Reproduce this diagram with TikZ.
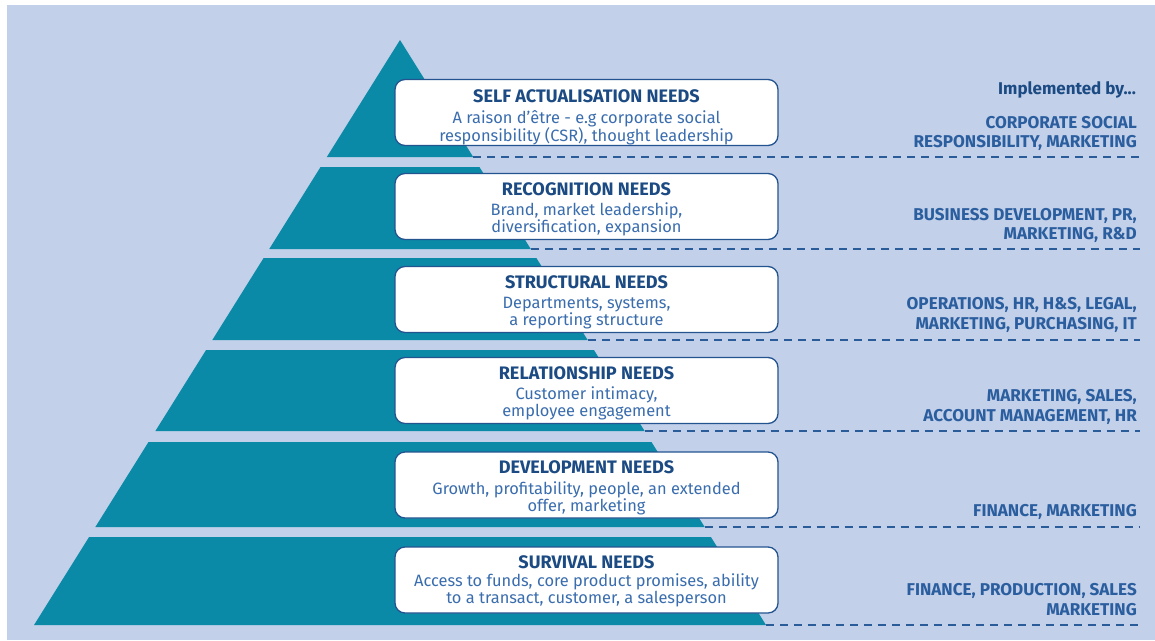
\documentclass[tikz,border=0pt]{standalone}
\usepackage{fontspec}
\setmainfont{Fira Sans}
\definecolor{bgblue}{HTML}{C2D0EA}
\definecolor{pyrteal}{HTML}{0A8AA7}
\definecolor{boxline}{HTML}{24548F}
\definecolor{titleblue}{HTML}{1C4B83}
\definecolor{bodyblue}{HTML}{3A6DAE}
\definecolor{labblue}{HTML}{2B5E9E}
\definecolor{dashblue}{HTML}{2A5C9A}
\begin{document}
\begin{tikzpicture}[x=1pt,y=-1pt,
  band/.style={fill=pyrteal},
  needbox/.style={draw=boxline, line width=1.3pt, fill=white, rounded corners=10pt,
    minimum width=383pt, minimum height=66pt, inner sep=0pt, align=center,
    font=\fontsize{16.4}{17.3}\selectfont, text=bodyblue},
  dashline/.style={draw=dashblue, line width=1.5pt, dash pattern=on 8pt off 6pt},
  impl/.style={anchor=east, align=right, font=\fontsize{17.1}{19.5}\selectfont\bfseries,
    text=labblue, inner sep=0pt}
]
\fill[white] (0,0) rectangle (1155,640);
\fill[bgblue] (7,5) rectangle (1155,640);
\useasboundingbox (0,0) rectangle (1155,640);
\foreach \i/\ya/\yb in {1/40/157,2/167/249,3/258/340,4/350/431,5/442/527,6/537/625}{
  \fill[band] ({400-0.6256*(\ya-40)},\ya) -- ({400+0.6256*(\ya-40)},\ya)
     -- ({400+0.6256*(\yb-40)},\yb) -- ({400-0.6256*(\yb-40)},\yb) -- cycle;
  \coordinate (ds\i) at ({400+0.6256*(\yb-40)},\yb);
  \coordinate (de\i) at (1140,\yb);
  \draw[dashline] (ds\i) -- (de\i);
}
\newcommand{\ntitle}[2][18.5pt]{\rule{0pt}{#1}\textcolor{titleblue}{\fontsize{18.1}{18}\selectfont\bfseries #2}}
\node[needbox] (b1) at (586.5,112.5) {\ntitle[23pt]{SELF ACTUALISATION NEEDS}\\[3pt]
  A raison d’être - e.g corporate social\\ responsibility (CSR), thought leadership};
\node[needbox] (b2) at (586.5,206.5) {\ntitle{RECOGNITION NEEDS}\\[3pt]
  Brand, market leadership,\\ diversification, expansion};
\node[needbox] (b3) at (586.5,299.5) {\ntitle{STRUCTURAL NEEDS}\\[3pt]
  Departments, systems,\\ a reporting structure};
\node[needbox] (b4) at (586.5,390.5) {\ntitle{RELATIONSHIP NEEDS}\\[3pt]
  Customer intimacy,\\ employee engagement};
\node[needbox] (b5) at (586.5,485) {\ntitle{DEVELOPMENT NEEDS}\\[3pt]
  Growth, profitability, people, an extended\\ offer, marketing};
\node[needbox] (b6) at (586.5,580) {\ntitle[16pt]{SURVIVAL NEEDS}\\[0pt]
  Access to funds, core product promises, ability\\ to a transact, customer, a salesperson};

\node[impl, text=titleblue, font=\fontsize{17}{18}\selectfont\bfseries] (imp) at (1136,90) {Implemented by...};
\node[impl] (l1) at (1137,133.5) {CORPORATE SOCIAL\\RESPONSIBILITY, MARKETING};
\node[impl] (l2) at (1137,225.5) {BUSINESS DEVELOPMENT, PR,\\MARKETING, R\&D};
\node[impl] (l3) at (1137,315) {OPERATIONS, HR, H\&S, LEGAL,\\MARKETING, PURCHASING, IT};
\node[impl] (l4) at (1137,407) {MARKETING, SALES,\\ACCOUNT MANAGEMENT, HR};
\node[impl] (l5) at (1137,512) {FINANCE, MARKETING};
\node[impl] (l6) at (1137,599.5) {FINANCE, PRODUCTION, SALES\\MARKETING};
\end{tikzpicture}
\end{document}
